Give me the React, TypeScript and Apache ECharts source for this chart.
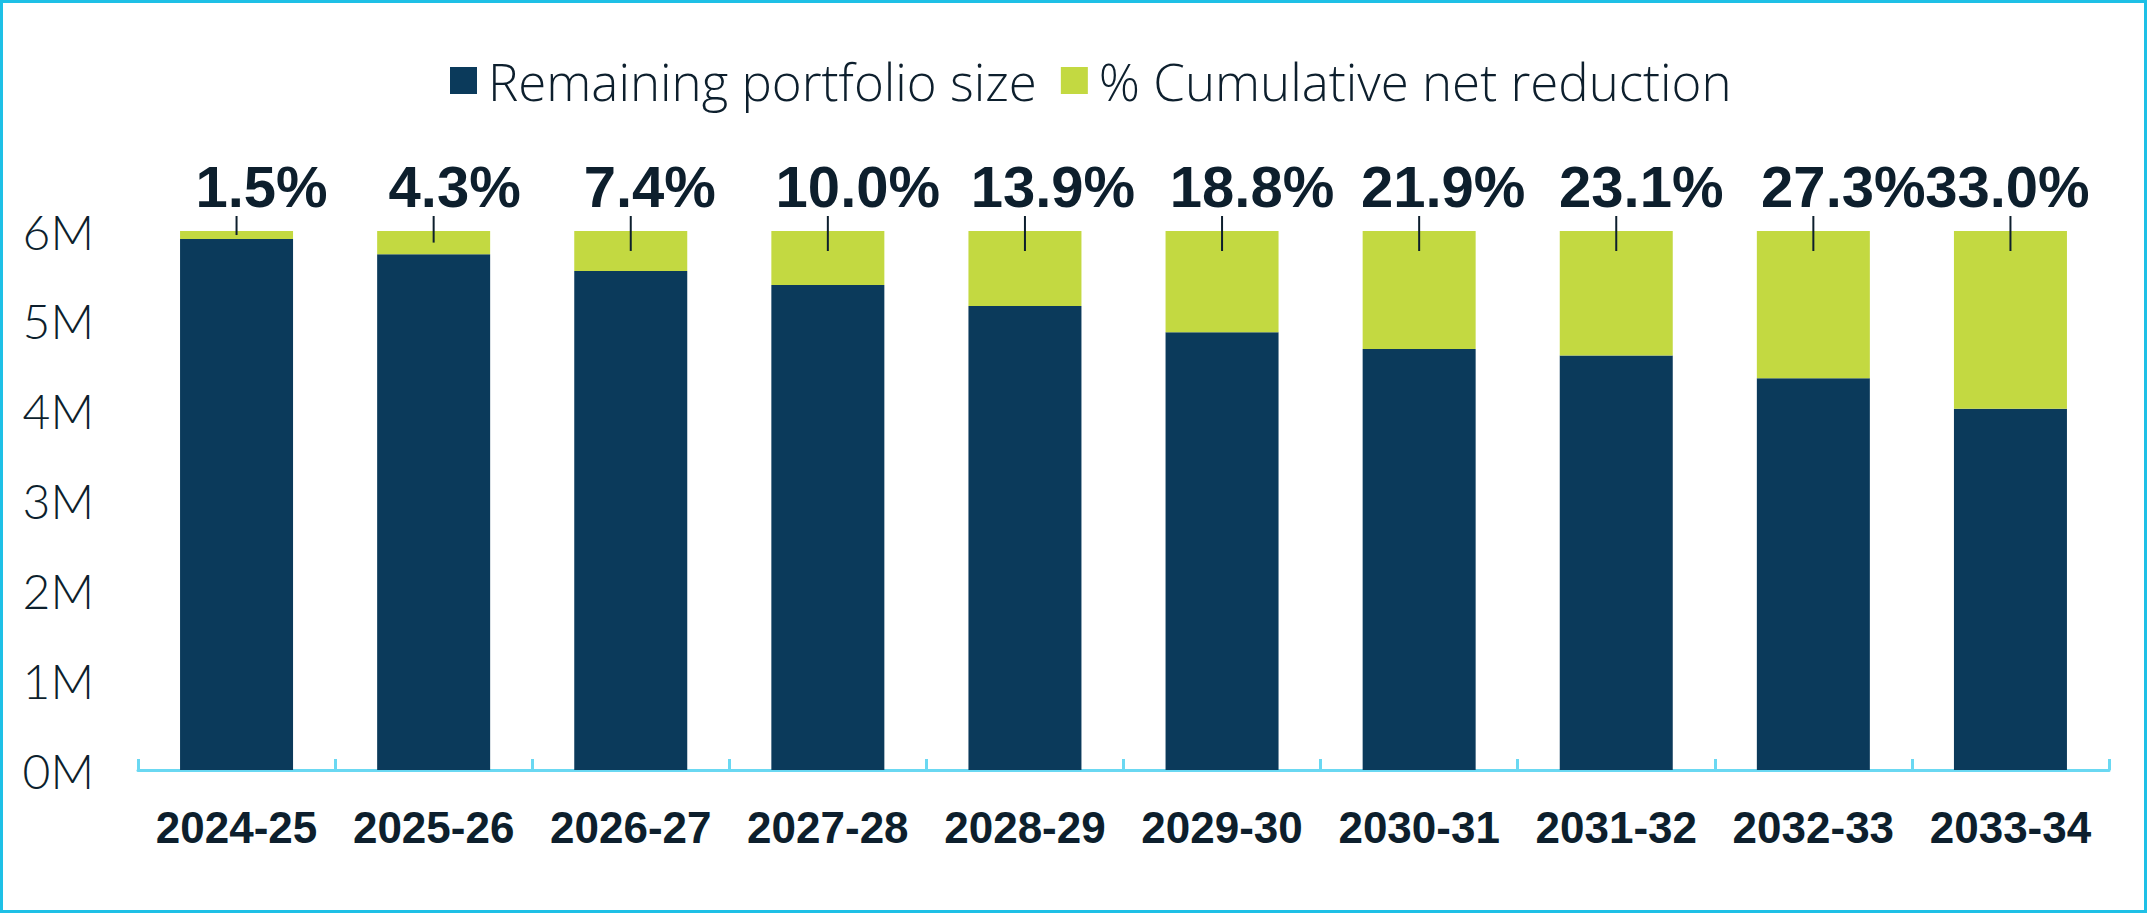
import { useEffect, useRef } from 'react';
import * as echarts from 'echarts';

const categories = ['2024-25', '2025-26', '2026-27', '2027-28', '2028-29', '2029-30', '2030-31', '2031-32', '2032-33', '2033-34'];
const remaining = [5910000, 5742000, 5556000, 5400000, 5166000, 4872000, 4686000, 4614000, 4362000, 4020000];
const reduction = [90000, 258000, 444000, 600000, 834000, 1128000, 1314000, 1386000, 1638000, 1980000];
const pctLabels = ['1.5%', '4.3%', '7.4%', '10.0%', '13.9%', '18.8%', '21.9%', '23.1%', '27.3%', '33.0%'];

// label nudges (px) to follow the hand-placed labels of the original
const labelDx = [25, 21, 19, 30, 28, 30, 24, 25, 30, -3];

const NAVY = '#0b3a5b';
const LIME = '#c3d941';
const INK = '#0d1f2d';
const AXIS = '#6ad8f2';

export default function App() {
  const chartRef = useRef<HTMLDivElement>(null);

  useEffect(() => {
    if (!chartRef.current) return;
    const chart = echarts.init(chartRef.current, null, { renderer: 'svg' });

    const option: echarts.EChartsOption = {
      animation: false,
      backgroundColor: '#fff',
      graphic: [
        {
          type: 'rect',
          shape: { x: 1.5, y: 1.5, width: 2144, height: 910 },
          style: { fill: 'none', stroke: '#1ec0e6', lineWidth: 3 },
          silent: true,
        },
      ],
      legend: {
        left: 445,
        top: 50,
        itemWidth: 27,
        itemHeight: 27,
        itemGap: 24,
        icon: 'rect',
        data: ['Remaining portfolio size', '% Cumulative net reduction'],
        textStyle: {
          fontFamily: 'Open Sans',
          fontWeight: 300,
          fontSize: 51,
          color: INK,
          padding: [0, 0, 0, 6],
        },
      },
      grid: { left: 138, right: 38, top: 231, bottom: 143 },
      xAxis: {
        type: 'category',
        data: categories,
        axisLine: { lineStyle: { color: AXIS, width: 3 } },
        axisTick: { show: true, inside: true, length: 11, lineStyle: { color: AXIS, width: 3 } },
        axisLabel: {
          interval: 0,
          margin: 35,
          fontFamily: 'Liberation Sans',
          fontWeight: 'bold',
          fontSize: 44,
          color: INK,
        },
      },
      yAxis: {
        type: 'value',
        min: 0,
        max: 6000000,
        interval: 1000000,
        splitLine: { show: false },
        axisLabel: {
          margin: 44,
          fontFamily: 'Lato',
          fontWeight: 300,
          fontSize: 48,
          color: INK,
          formatter: (v: number) => `${v / 1000000}M`,
        },
      },
      series: [
        {
          name: 'Remaining portfolio size',
          type: 'bar',
          stack: 'total',
          barWidth: 113,
          itemStyle: { color: NAVY },
          data: remaining,
        },
        {
          name: '% Cumulative net reduction',
          type: 'bar',
          stack: 'total',
          barWidth: 113,
          itemStyle: { color: LIME },
          data: reduction,
        },
        {
          type: 'custom',
          clip: false,
          z: 10,
          silent: true,
          data: categories.map((_, i) => [i, remaining[i] + reduction[i], remaining[i]]),
          renderItem: (params: any, api: any) => {
            const i = api.value(0);
            const top = api.coord([i, api.value(1)]);
            const low = api.coord([i, api.value(2)]);
            const mid = (top[1] + low[1]) / 2;
            const end = Math.min(mid, top[1] + 20);
            return {
              type: 'group',
              children: [
                {
                  type: 'line',
                  shape: { x1: top[0], y1: top[1] - 15, x2: top[0], y2: end },
                  style: { stroke: INK, lineWidth: 2 },
                },
                {
                  type: 'text',
                  x: top[0] + labelDx[i],
                  y: top[1] - 45,
                  style: {
                    text: pctLabels[i],
                    align: 'center',
                    verticalAlign: 'middle',
                    fontFamily: 'Liberation Sans',
                    fontWeight: 'bold',
                    fontSize: 58,
                    fill: INK,
                  },
                },
              ],
            };
          },
        },
      ],
    };

    chart.setOption(option);
    const handleResize = () => chart.resize();
    window.addEventListener('resize', handleResize);
    return () => {
      window.removeEventListener('resize', handleResize);
      chart.dispose();
    };
  }, []);

  return (
    <div
      ref={chartRef}
      style={{ position: 'fixed', left: 0, top: 0, width: '2147px', height: '913px' }}
    ></div>
  );
}
